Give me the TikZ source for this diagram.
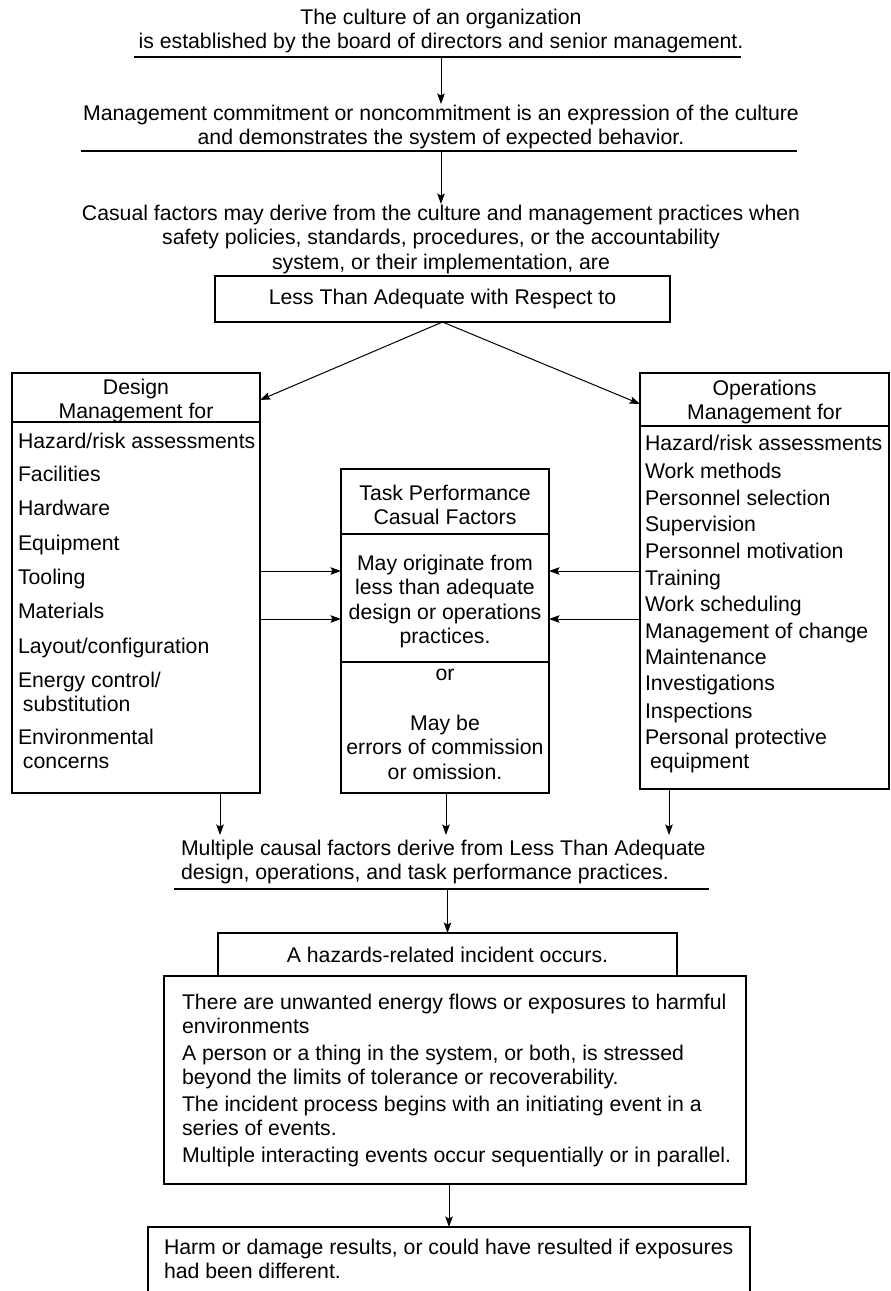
\documentclass[tikz,border=0pt]{standalone}
\usepackage{fontspec}
\setmainfont{Liberation Sans}
\usetikzlibrary{arrows.meta}
\newcommand\tstrut{\rule{0pt}{16pt}}
\begin{document}
\begin{tikzpicture}[x=1pt,y=-1pt,
  every node/.style={inner sep=0pt, outer sep=0pt, font=\fontsize{21.25}{24.5}\selectfont},
  txt/.style={align=center, anchor=north},
  ltxt/.style={align=left, anchor=north west},
  item/.style={anchor=base west},
  box/.style={draw, line width=1.1pt},
  rule/.style={line width=1.1pt},
  arr/.style={line width=1pt, -{Stealth[length=10.5pt,width=7.5pt,inset=2pt]}}]
\useasboundingbox (0,0) rectangle (891,1291);

% top statements
\node[txt] (t1) at (441,8) {\tstrut The culture of an organization\\is established by the board of directors and senior management.};
\coordinate (u1l) at (134,57); \coordinate (u1r) at (741,57);
\draw[rule] (u1l) -- (u1r);
\node[txt] (t2) at (441,104) {\tstrut Management commitment or noncommitment is an expression of the culture\\and demonstrates the system of expected behavior.};
\coordinate (u2l) at (81,151); \coordinate (u2r) at (797,151);
\draw[rule] (u2l) -- (u2r);
\node[txt] (t3) at (441,204) {\tstrut Casual factors may derive from the culture and management practices when\\safety policies, standards, procedures, or the accountability\\system, or their implementation, are};
\draw[arr] (t2.north |- u1l) -- (t2.north);
\draw[arr] (t3.north |- u2l) -- (t3.north);

\node[box, minimum width=455, minimum height=46, anchor=north west] (lta) at (215,276) {Less Than Adequate with Respect to};

% left box
\node[box, minimum width=248, minimum height=420, anchor=north west] (lbox) at (12,373) {};
\coordinate (ls) at (0,422);
\draw[rule] (lbox.west |- ls) -- (lbox.east |- ls);
\node[txt] (lh) at (136,378) {\tstrut Design\\Management for};
\node[item] (l1) at (18,448) {Hazard/risk assessments};
\node[item] (l2) at (18,481) {Facilities};
\node[item] (l3) at (18,515) {Hardware};
\node[item] (l4) at (18,550) {Equipment};
\node[item] (l5) at (18,584) {Tooling};
\node[item] (l6) at (18,618) {Materials};
\node[item] (l7) at (18,653) {Layout/configuration};
\node[ltxt] (l8) at (18,671) {\tstrut Energy control/\\\hspace*{5pt}substitution};
\node[ltxt] (l9) at (18,728) {\tstrut Environmental\\\hspace*{5pt}concerns};

% right box
\node[box, minimum width=249, minimum height=416, anchor=north west] (rbox) at (640,373) {};
\coordinate (rs) at (0,426);
\draw[rule] (rbox.west |- rs) -- (rbox.east |- rs);
\node[txt] (rh) at (764.5,379) {\tstrut Operations\\Management for};
\node[item] (r1) at (645,450) {Hazard/risk assessments};
\node[item] (r2) at (645,478) {Work methods};
\node[item] (r3) at (645,505) {Personnel selection};
\node[item] (r4) at (645,531) {Supervision};
\node[item] (r5) at (645,558) {Personnel motivation};
\node[item] (r6) at (645,585) {Training};
\node[item] (r7) at (645,611) {Work scheduling};
\node[item] (r8) at (645,638) {Management of change};
\node[item] (r9) at (645,664) {Maintenance};
\node[item] (r10) at (645,690) {Investigations};
\node[item] (r11) at (645,718) {Inspections};
\node[ltxt] (r12) at (645,728) {\tstrut Personal protective\\\hspace*{5pt}equipment};

\draw[arr] (lta.south) -- ([yshift=-27pt]lbox.north east);
\draw[arr] (lta.south) -- ([yshift=-31pt]rbox.north west);

% middle box
\node[box, minimum width=208, minimum height=324, anchor=north west] (mbox) at (341,469) {};
\coordinate (ms1) at (0,534); \coordinate (ms2) at (0,662);
\draw[rule] (mbox.west |- ms1) -- (mbox.east |- ms1);
\draw[rule] (mbox.west |- ms2) -- (mbox.east |- ms2);
\node[txt] (m1) at (445,484) {\tstrut Task Performance\\Casual Factors};
\node[txt] (m2) at (445,554) {\tstrut May originate from\\less than adequate\\design or operations\\practices.};
\node[anchor=base] (m3) at (445,680) {or};
\node[txt] (m4) at (445,714) {\tstrut May be\\errors of commission\\or omission.};

\coordinate (a1) at (0,571); \coordinate (a2) at (0,619);
\draw[arr] (lbox.east |- a1) -- (mbox.west |- a1);
\draw[arr] (lbox.east |- a2) -- (mbox.west |- a2);
\draw[arr] (rbox.west |- a1) -- (mbox.east |- a1);
\draw[arr] (rbox.west |- a2) -- (mbox.east |- a2);

% convergence
\coordinate (bl) at (220,835); \coordinate (bm) at (446,835); \coordinate (br) at (669,835);
\draw[arr] (lbox.south -| bl) -- (bl);
\draw[arr] (mbox.south -| bm) -- (bm);
\draw[arr] (rbox.south -| br) -- (br);

\node[ltxt] (mc) at (181,839) {\tstrut Multiple causal factors derive from Less Than Adequate\\design, operations, and task performance practices.};
\coordinate (u3l) at (174,889); \coordinate (u3r) at (709,889);
\draw[rule] (u3l) -- (u3r);

\node[box, minimum width=459, minimum height=43, anchor=north west] (hz) at (218,933) {A hazards-related incident occurs.};
\draw[arr] (hz.north |- u3l) -- (hz.north);

\node[box, minimum width=582, minimum height=208, anchor=north west] (bb) at (164,976) {};
\node[ltxt] (bbt) at (182,993) {\tstrut There are unwanted energy flows or exposures to harmful\\environments\\[2pt]A person or a thing in the system, or both, is stressed\\beyond the limits of tolerance or recoverability.\\[2pt]The incident process begins with an initiating event in a\\series of events.\\[2pt]Multiple interacting events occur sequentially or in parallel.};

\node[minimum width=602, minimum height=64, anchor=north west] (hb) at (148,1227) {};
\draw[rule] (hb.south west) -- (hb.north west) -- (hb.north east) -- (hb.south east);
\node[ltxt] (hbt) at (164,1238) {\tstrut Harm or damage results, or could have resulted if exposures\\had been different.};
\coordinate (bt) at (449,0);
\draw[arr] (bb.south -| bt) -- (hb.north -| bt);
\end{tikzpicture}
\end{document}
